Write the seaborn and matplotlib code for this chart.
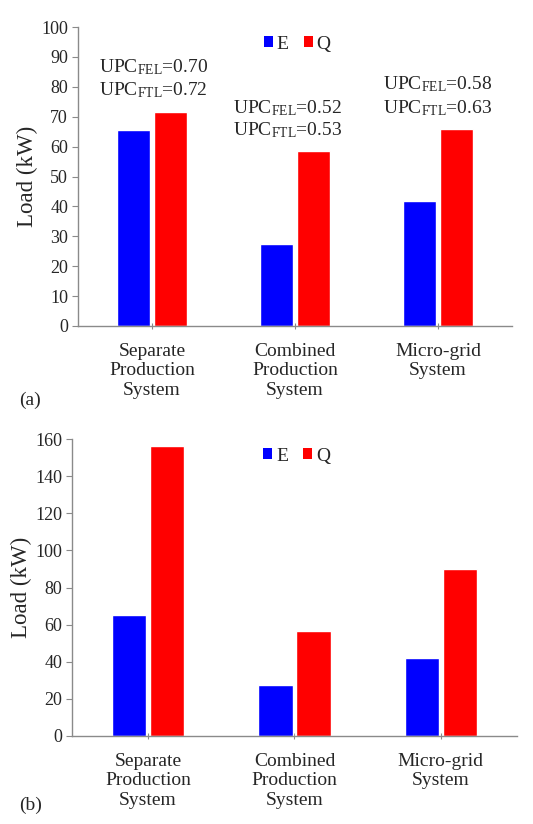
import matplotlib
matplotlib.use("Agg")
import matplotlib.pyplot as plt
import seaborn as sns
import pandas as pd
from matplotlib.patches import Patch

# --- data ---
systems = ["Separate\nProduction\nSystem", "Combined\nProduction\nSystem", "Micro-grid\nSystem"]
series = ["E", "Q"]
load_a_E = [65.5, 27.4, 41.8]
load_a_Q = [71.6, 58.6, 65.8]
load_b_E = [65.3, 27.3, 41.9]
load_b_Q = [156.4, 56.6, 90.1]
upc_fel = ["0.70", "0.52", "0.58"]
upc_ftl = ["0.72", "0.53", "0.63"]

colors = ["#0000FF", "#FF0000"]

sns.set_style("white")
plt.rcParams["font.family"] = ["Liberation Serif", "DejaVu Serif"]
plt.rcParams["mathtext.fontset"] = "custom"
plt.rcParams["mathtext.rm"] = "Liberation Serif"
plt.rcParams["mathtext.it"] = "Liberation Serif:italic"


def make_df(e_vals, q_vals):
    rows = []
    for s, e, q in zip(systems, e_vals, q_vals):
        rows.append({"system": s, "series": "E", "load": e})
        rows.append({"system": s, "series": "Q", "load": q})
    return pd.DataFrame(rows)


def draw_panel(ax, df, ymax, ystep):
    sns.barplot(data=df, x="system", y="load", hue="series", order=systems,
                hue_order=series, palette=colors, saturation=1, width=0.52,
                gap=0.1, legend=False, ax=ax)
    ax.set_ylim(0, ymax)
    ax.set_yticks(range(0, ymax + 1, ystep))
    ax.set_xlim(-0.52, 2.52)
    ax.set_xlabel("")
    ax.set_ylabel("Load (kW)", fontsize=16.5, labelpad=2)
    for side in ["top", "right"]:
        ax.spines[side].set_visible(False)
    for side in ["left", "bottom"]:
        ax.spines[side].set_color("#8a8a8a")
        ax.spines[side].set_linewidth(1.0)
    ax.tick_params(axis="y", direction="out", length=4, width=0.8,
                   color="#8a8a8a", labelsize=13, pad=3, left=True)
    ax.tick_params(axis="x", direction="inout", length=4, width=0.8,
                   color="#8a8a8a", labelsize=14, pad=10, bottom=True)
    handles = [Patch(facecolor=c, edgecolor="none") for c in colors]
    ax.legend(handles, series, loc="upper center", bbox_to_anchor=(0.505, 1.03),
              ncol=2, frameon=False, fontsize=14, handlelength=0.45,
              handleheight=0.45, handletextpad=0.2, columnspacing=0.8)


fig = plt.figure(figsize=(5.33, 8.24), dpi=100)
ax1 = fig.add_axes([0.146, 0.6044, 0.815, 0.3628])
ax2 = fig.add_axes([0.135, 0.1068, 0.835, 0.3604])

draw_panel(ax1, make_df(load_a_E, load_a_Q), 100, 10)
draw_panel(ax2, make_df(load_b_E, load_b_Q), 160, 20)

# UPC annotations on panel (a)
upc_y = [(86.6, 79.0), (73.0, 65.5), (81.0, 73.0)]
upc_dx = [0.01, -0.05, 0.0]
for i, (fel, ftl) in enumerate(zip(upc_fel, upc_ftl)):
    ax1.text(i + upc_dx[i], upc_y[i][0], r"UPC$_{\mathrm{FEL}}$=" + fel,
             ha="center", va="center", fontsize=14)
    ax1.text(i + upc_dx[i], upc_y[i][1], r"UPC$_{\mathrm{FTL}}$=" + ftl,
             ha="center", va="center", fontsize=14)

fig.text(0.036, 1 - 400 / 824, "(a)", fontsize=14, va="center")
fig.text(0.036, 1 - 805 / 824, "(b)", fontsize=14, va="center")

fig.savefig("out.png", dpi=100)
